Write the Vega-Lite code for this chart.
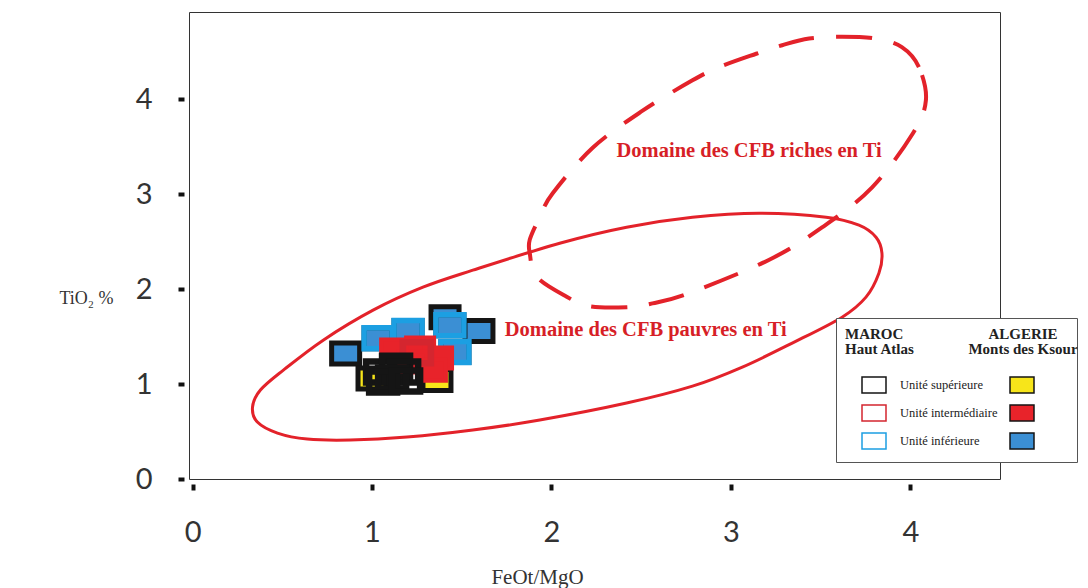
{
  "$schema": "https://vega.github.io/schema/vega-lite/v6.json",
  "width": 811,
  "height": 467,
  "autosize": {"type": "none"},
  "padding": {"left": 189, "top": 12, "right": 88, "bottom": 109},
  "background": "white",
  "config": {
    "view": {"stroke": "#333", "strokeWidth": 1},
    "axis": {"grid": false, "domain": false}
  },
  "datasets": {
    "pts": [
      {"pays": "Algérie", "unite": "Unité inférieure", "FeOt_MgO": 0.853, "TiO2": 1.321},
      {"pays": "Algérie", "unite": "Unité inférieure", "FeOt_MgO": 1.596, "TiO2": 1.558},
      {"pays": "Algérie", "unite": "Unité inférieure", "FeOt_MgO": 1.407, "TiO2": 1.705},
      {"pays": "Algérie", "unite": "Unité inférieure", "FeOt_MgO": 1.034, "TiO2": 1.484},
      {"pays": "Algérie", "unite": "Unité inférieure", "FeOt_MgO": 1.201, "TiO2": 1.558},
      {"pays": "Algérie", "unite": "Unité inférieure", "FeOt_MgO": 1.434, "TiO2": 1.621},
      {"pays": "Algérie", "unite": "Unité inférieure", "FeOt_MgO": 1.462, "TiO2": 1.337},
      {"pays": "Maroc", "unite": "Unité inférieure", "FeOt_MgO": 1.034, "TiO2": 1.484},
      {"pays": "Maroc", "unite": "Unité inférieure", "FeOt_MgO": 1.201, "TiO2": 1.558},
      {"pays": "Maroc", "unite": "Unité inférieure", "FeOt_MgO": 1.434, "TiO2": 1.621},
      {"pays": "Maroc", "unite": "Unité inférieure", "FeOt_MgO": 1.462, "TiO2": 1.337},
      {"pays": "Algérie", "unite": "Unité supérieure", "FeOt_MgO": 1.362, "TiO2": 1.042},
      {"pays": "Algérie", "unite": "Unité supérieure", "FeOt_MgO": 1.000, "TiO2": 1.060},
      {"pays": "Algérie", "unite": "Unité intermédiaire", "FeOt_MgO": 1.129, "TiO2": 1.358},
      {"pays": "Algérie", "unite": "Unité intermédiaire", "FeOt_MgO": 1.268, "TiO2": 1.379},
      {"pays": "Algérie", "unite": "Unité intermédiaire", "FeOt_MgO": 1.368, "TiO2": 1.274},
      {"pays": "Algérie", "unite": "Unité intermédiaire", "FeOt_MgO": 1.223, "TiO2": 1.232},
      {"pays": "Algérie", "unite": "Unité intermédiaire", "FeOt_MgO": 1.334, "TiO2": 1.147},
      {"pays": "Maroc", "unite": "Unité intermédiaire", "FeOt_MgO": 1.25, "TiO2": 1.33},
      {"pays": "Maroc", "unite": "Unité supérieure", "FeOt_MgO": 1.045, "TiO2": 1.126},
      {"pays": "Maroc", "unite": "Unité supérieure", "FeOt_MgO": 1.134, "TiO2": 1.189},
      {"pays": "Maroc", "unite": "Unité supérieure", "FeOt_MgO": 1.179, "TiO2": 1.126},
      {"pays": "Maroc", "unite": "Unité supérieure", "FeOt_MgO": 1.112, "TiO2": 1.063},
      {"pays": "Maroc", "unite": "Unité supérieure", "FeOt_MgO": 1.062, "TiO2": 1.021},
      {"pays": "Maroc", "unite": "Unité supérieure", "FeOt_MgO": 1.190, "TiO2": 1.032}
    ],
    "solid": [
      {"i": 0, "FeOt_MgO": 3.842, "TiO2": 2.379},
      {"i": 1, "FeOt_MgO": 3.809, "TiO2": 2.547},
      {"i": 2, "FeOt_MgO": 3.714, "TiO2": 2.674},
      {"i": 3, "FeOt_MgO": 3.531, "TiO2": 2.758},
      {"i": 4, "FeOt_MgO": 3.158, "TiO2": 2.800},
      {"i": 5, "FeOt_MgO": 2.786, "TiO2": 2.758},
      {"i": 6, "FeOt_MgO": 2.419, "TiO2": 2.653},
      {"i": 7, "FeOt_MgO": 2.046, "TiO2": 2.484},
      {"i": 8, "FeOt_MgO": 1.562, "TiO2": 2.200},
      {"i": 9, "FeOt_MgO": 1.284, "TiO2": 2.021},
      {"i": 10, "FeOt_MgO": 1.006, "TiO2": 1.779},
      {"i": 11, "FeOt_MgO": 0.728, "TiO2": 1.463},
      {"i": 12, "FeOt_MgO": 0.506, "TiO2": 1.147},
      {"i": 13, "FeOt_MgO": 0.378, "TiO2": 0.937},
      {"i": 14, "FeOt_MgO": 0.334, "TiO2": 0.758},
      {"i": 15, "FeOt_MgO": 0.361, "TiO2": 0.600},
      {"i": 16, "FeOt_MgO": 0.473, "TiO2": 0.484},
      {"i": 17, "FeOt_MgO": 0.639, "TiO2": 0.421},
      {"i": 18, "FeOt_MgO": 0.879, "TiO2": 0.411},
      {"i": 19, "FeOt_MgO": 1.195, "TiO2": 0.442},
      {"i": 20, "FeOt_MgO": 1.562, "TiO2": 0.516},
      {"i": 21, "FeOt_MgO": 1.935, "TiO2": 0.621},
      {"i": 22, "FeOt_MgO": 2.419, "TiO2": 0.800},
      {"i": 23, "FeOt_MgO": 2.786, "TiO2": 0.978},
      {"i": 24, "FeOt_MgO": 3.064, "TiO2": 1.179},
      {"i": 25, "FeOt_MgO": 3.342, "TiO2": 1.432},
      {"i": 26, "FeOt_MgO": 3.620, "TiO2": 1.705},
      {"i": 27, "FeOt_MgO": 3.753, "TiO2": 1.916},
      {"i": 28, "FeOt_MgO": 3.825, "TiO2": 2.168}
    ],
    "dashed": [
      {"i": 0, "FeOt_MgO": 4.087, "TiO2": 3.99},
      {"i": 1, "FeOt_MgO": 4.048, "TiO2": 4.34},
      {"i": 2, "FeOt_MgO": 3.953, "TiO2": 4.55},
      {"i": 3, "FeOt_MgO": 3.809, "TiO2": 4.64},
      {"i": 4, "FeOt_MgO": 3.620, "TiO2": 4.66},
      {"i": 5, "FeOt_MgO": 3.436, "TiO2": 4.64},
      {"i": 6, "FeOt_MgO": 3.286, "TiO2": 4.57},
      {"i": 7, "FeOt_MgO": 3.141, "TiO2": 4.48},
      {"i": 8, "FeOt_MgO": 2.936, "TiO2": 4.34},
      {"i": 9, "FeOt_MgO": 2.786, "TiO2": 4.20},
      {"i": 10, "FeOt_MgO": 2.508, "TiO2": 3.88},
      {"i": 11, "FeOt_MgO": 2.230, "TiO2": 3.49},
      {"i": 12, "FeOt_MgO": 2.007, "TiO2": 3.01},
      {"i": 13, "FeOt_MgO": 1.935, "TiO2": 2.76},
      {"i": 14, "FeOt_MgO": 1.879, "TiO2": 2.52},
      {"i": 15, "FeOt_MgO": 1.879, "TiO2": 2.38},
      {"i": 16, "FeOt_MgO": 1.918, "TiO2": 2.13},
      {"i": 17, "FeOt_MgO": 2.085, "TiO2": 1.92},
      {"i": 18, "FeOt_MgO": 2.213, "TiO2": 1.82},
      {"i": 19, "FeOt_MgO": 2.419, "TiO2": 1.81},
      {"i": 20, "FeOt_MgO": 2.563, "TiO2": 1.85},
      {"i": 21, "FeOt_MgO": 2.769, "TiO2": 1.96},
      {"i": 22, "FeOt_MgO": 3.214, "TiO2": 2.31},
      {"i": 23, "FeOt_MgO": 3.508, "TiO2": 2.65},
      {"i": 24, "FeOt_MgO": 3.786, "TiO2": 3.07},
      {"i": 25, "FeOt_MgO": 4.014, "TiO2": 3.64}
    ],
    "labels": [
      {"label": "Domaine des CFB riches en Ti", "FeOt_MgO": 2.363, "TiO2": 3.389},
      {"label": "Domaine des CFB pauvres en Ti", "FeOt_MgO": 1.740, "TiO2": 1.505}
    ]
  },
  "encoding": {
    "x": {
      "field": "FeOt_MgO", "type": "quantitative",
      "scale": {"domain": [-0.02, 4.5], "nice": false, "zero": false},
      "axis": {
        "title": "FeOt/MgO", "values": [0, 1, 2, 3, 4], "offset": 5,
        "tickSize": 6, "tickWidth": 4, "tickColor": "#111",
        "labelFont": "Lato", "labelFontSize": 29, "labelColor": "#333", "labelPadding": 28,
        "titleFont": "Liberation Serif", "titleFontSize": 21, "titleFontWeight": "normal", "titleColor": "#333",
        "titleX": 348, "titleY": 93, "titleAlign": "center", "titleBaseline": "middle"
      }
    },
    "y": {
      "field": "TiO2", "type": "quantitative",
      "scale": {"domain": [0, 4.92], "nice": false},
      "axis": {
        "title": "TiO₂ %", "values": [0, 1, 2, 3, 4], "offset": 5,
        "tickSize": 6, "tickWidth": 4, "tickColor": "#111",
        "labelFont": "Lato", "labelFontSize": 29, "labelColor": "#333", "labelPadding": 26,
        "titleFont": "Liberation Serif", "titleFontSize": 18, "titleFontWeight": "normal", "titleColor": "#333",
        "titleAngle": 0, "titleX": -98, "titleY": 286, "titleAlign": "center", "titleBaseline": "middle"
      }
    }
  },
  "layer": [
    {
      "data": {"name": "solid"},
      "mark": {"type": "line", "interpolate": "cardinal-closed", "color": "#e3222a", "strokeWidth": 3},
      "encoding": {"order": {"field": "i", "type": "quantitative"}}
    },
    {
      "data": {"name": "dashed"},
      "mark": {"type": "line", "interpolate": "cardinal-closed", "color": "#e3222a", "strokeWidth": 4, "strokeDash": [36, 22]},
      "encoding": {"order": {"field": "i", "type": "quantitative"}}
    },
    {
      "data": {"name": "labels"},
      "mark": {"type": "text", "align": "left", "baseline": "alphabetic", "font": "Liberation Serif", "fontWeight": "bold", "fontSize": 20.5, "color": "#d71f27"},
      "encoding": {"text": {"field": "label"}}
    },
    {
      "data": {"name": "pts"},
      "transform": [{"filter": "datum.pays == 'Algérie' && datum.unite == 'Unité inférieure'"}],
      "mark": {"type": "point", "filled": true, "opacity": 1, "shape": "M-1,-0.75H1V0.75H-1Z", "size": 784, "stroke": "#151515", "strokeWidth": 5},
      "encoding": {
        "fill": {
          "field": "unite", "type": "nominal",
          "scale": {"domain": ["Unité inférieure", "Unité intermédiaire", "Unité supérieure"], "range": ["#3b8fd4", "#e8232a", "#f7e51a"]},
          "legend": {
            "orient": "none", "legendX": 770, "legendY": 306, "zindex": 2,
            "values": ["Unité supérieure", "Unité intermédiaire", "Unité inférieure"],
            "title": ["ALGERIE", "Monts des Ksour"],
            "titleFont": "Liberation Serif", "titleFontSize": 15, "titleFontWeight": "bold", "titleColor": "#222",
            "titleLineHeight": 15, "titleAlign": "center", "titleAnchor": "middle", "titlePadding": 15,
            "padding": 9,
            "symbolType": "M-1,-0.67H1V0.67H-1Z", "symbolSize": 576, "symbolOffset": 0,
            "labelExpr": "''", "labelOffset": 0, "rowPadding": 3,
            "encode": {"symbols": {"update": {"stroke": {"value": "#111"}, "strokeWidth": {"value": 2}}}}
          }
        }
      }
    },
    {
      "data": {"name": "pts"},
      "transform": [{"filter": "datum.pays == 'Maroc' && datum.unite == 'Unité inférieure'"}],
      "mark": {"type": "point", "filled": false, "opacity": 1, "shape": "M-1,-0.75H1V0.75H-1Z", "size": 784, "strokeWidth": 5.5},
      "encoding": {
        "stroke": {
          "field": "unite", "type": "nominal",
          "scale": {"domain": ["Unité supérieure", "Unité intermédiaire", "Unité inférieure"], "range": ["#151515", "#d4262f", "#1c9fe2"]},
          "legend": {
            "orient": "none", "legendX": 647, "legendY": 306, "zindex": 1,
            "title": ["MAROC", "Haut Atlas"],
            "titleFont": "Liberation Serif", "titleFontSize": 15, "titleFontWeight": "bold", "titleColor": "#222",
            "titleLineHeight": 15, "titleAlign": "left", "titlePadding": 15,
            "padding": 9, "strokeColor": "#555", "fillColor": "white",
            "symbolType": "M-1,-0.67H1V0.67H-1Z", "symbolSize": 576, "symbolOffset": 16,
            "labelFont": "Liberation Serif", "labelFontSize": 12.5, "labelColor": "#222", "labelOffset": 13, "labelLimit": 400,
            "labelExpr": "datum.label + '\u2800\u2800\u2800\u2800\u2800\u2800\u2800'",
            "rowPadding": 3,
            "encode": {"symbols": {"update": {"fill": {"value": "white"}, "strokeWidth": {"value": 2.5}}}}
          }
        }
      }
    },
    {
      "data": {"name": "pts"},
      "transform": [{"filter": "datum.pays == 'Algérie' && datum.unite == 'Unité supérieure'"}],
      "mark": {"type": "point", "filled": true, "opacity": 1, "shape": "M-1,-0.75H1V0.75H-1Z", "size": 784, "stroke": "#151515", "strokeWidth": 5},
      "encoding": {"fill": {"field": "unite", "type": "nominal"}}
    },
    {
      "data": {"name": "pts"},
      "transform": [{"filter": "datum.pays == 'Algérie' && datum.unite == 'Unité intermédiaire'"}],
      "mark": {"type": "point", "filled": true, "opacity": 1, "shape": "M-1,-0.75H1V0.75H-1Z", "size": 784, "stroke": "#e8232a", "strokeWidth": 4},
      "encoding": {"fill": {"field": "unite", "type": "nominal"}}
    },
    {
      "data": {"name": "pts"},
      "transform": [{"filter": "datum.pays == 'Maroc' && datum.unite != 'Unité inférieure'"}],
      "mark": {"type": "point", "filled": false, "opacity": 1, "shape": "M-1,-0.75H1V0.75H-1Z", "size": 784, "strokeWidth": 6.5},
      "encoding": {"stroke": {"field": "unite", "type": "nominal"}}
    }
  ]
}
